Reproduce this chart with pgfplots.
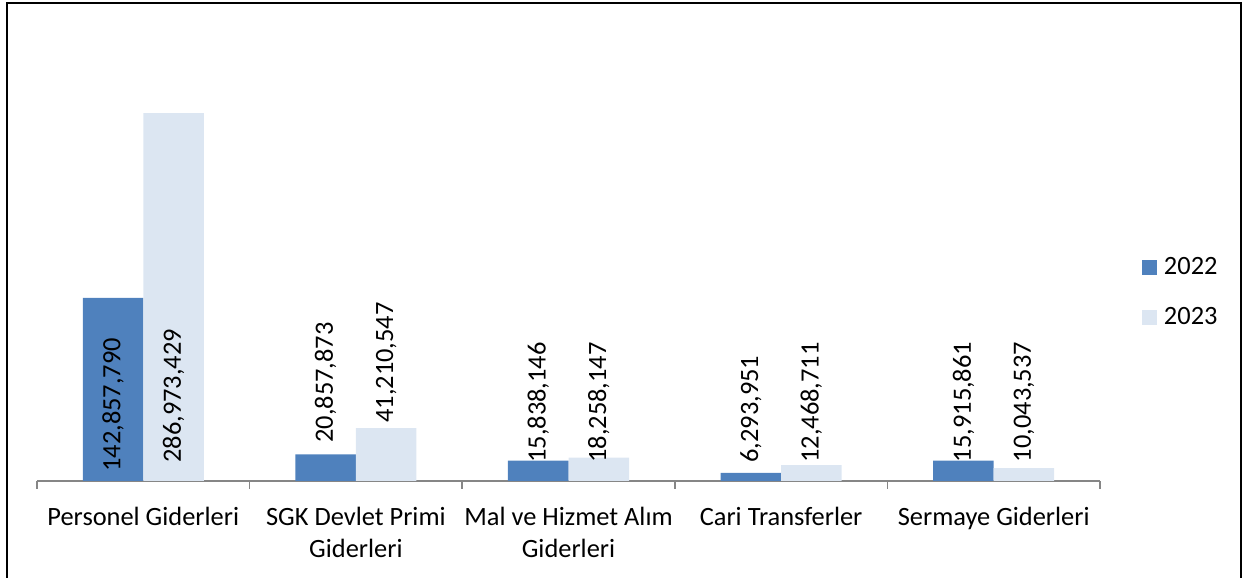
\documentclass[border=0pt]{standalone}
\usepackage{pgfplots}
\pgfplotsset{compat=1.18}
\usepackage{fontspec}
\setmainfont{Carlito}
\definecolor{c22}{HTML}{4F81BD}
\definecolor{c23}{HTML}{DCE6F2}
\definecolor{axgray}{HTML}{868686}
\newcommand{\lblfont}{\fontsize{13.2}{16}\selectfont}
\begin{document}
\begin{tikzpicture}[x=1pt,y=1pt]
\useasboundingbox (0,0) rectangle (623.5,289);
\draw[line width=1pt] (3.5,-5) -- (3.5,287.5) -- (620.5,287.5) -- (620.5,-5);
\begin{axis}[
  at={(18.5pt,48.5pt)}, anchor=south west,
  scale only axis, width=531.5pt, height=224.4pt,
  xmin=-0.5, xmax=4.5, ymin=0, ymax=350e6,
  axis y line=none, axis x line*=bottom,
  x axis line style={axgray, line width=0.75pt},
  xtick={0,...,4},
  xticklabels={Personel Giderleri, {SGK Devlet Primi\\Giderleri}, {Mal ve Hizmet Alım\\Giderleri}, Cari Transferler, Sermaye Giderleri},
  xticklabel style={font=\lblfont, align=center, text=black, yshift=-9.5pt},
  major tick length=0pt,
  minor xtick={-0.5,0.5,...,4.5},
  minor tick length=4pt, tick align=outside,
  xtick style={axgray, line width=0.75pt},
  clip=false,
  legend style={at={(1.0395,0.4209)}, anchor=west, draw=none, fill=none, inner sep=0pt, outer sep=0pt, row sep=15pt, column sep=3.5pt, font=\lblfont, nodes={inner sep=0pt}},
  legend cell align=left,
]
\addplot[ybar, bar width=0.2846, bar shift=-0.1423, fill=c22, draw=none,
  legend image code/.code={\fill[c22] (0pt,-3.75pt) rectangle (7.5pt,3.75pt);}]
  coordinates {(0,142857790) (1,20857873) (2,15838146) (3,6293951) (4,15915861)};
\addplot[ybar, bar width=0.2846, bar shift=0.1423, fill=c23, draw=none,
  legend image code/.code={\fill[c23] (0pt,-3.75pt) rectangle (7.5pt,3.75pt);}]
  coordinates {(0,286973429) (1,41210547) (2,18258147) (3,12468711) (4,10043537)};
\legend{2022,2023}
\addplot[forget plot, draw=none, mark=none, nodes near coords, point meta=explicit symbolic,
  nodes near coords style={rotate=90, anchor=west, inner sep=0pt, font=\lblfont, text=black}]
  table[meta=lab] {
x y lab
-0.1423 7.0e6 142,857,790
0.1423 14.0e6 286,973,429
0.8577 29.6e6 20,857,873
1.1423 45.2e6 41,210,547
1.8577 14.0e6 15,838,146
2.1423 14.0e6 18,258,147
2.8577 14.0e6 6,293,951
3.1423 14.0e6 12,468,711
3.8577 14.4e6 15,915,861
4.1423 14.4e6 10,043,537
};
\end{axis}
\end{tikzpicture}
\end{document}
